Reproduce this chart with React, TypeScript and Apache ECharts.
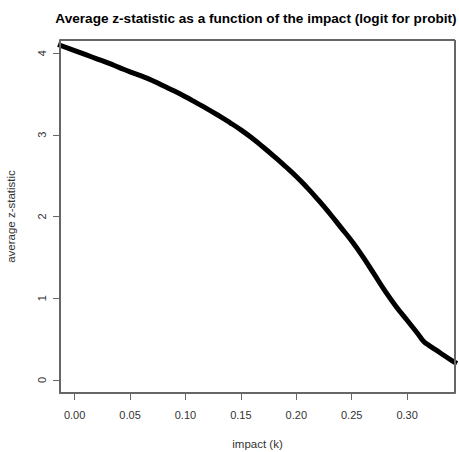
import React, { useEffect, useRef } from "react";
import * as echarts from "echarts";

const impact = [
  -0.015, 0.0, 0.01, 0.02, 0.03, 0.04, 0.05, 0.06, 0.07, 0.08, 0.09, 0.1, 0.11, 0.12, 0.13, 0.14,
  0.15, 0.16, 0.17, 0.18, 0.19, 0.2, 0.21, 0.22, 0.23, 0.24, 0.25, 0.26, 0.27, 0.28, 0.29, 0.3,
  0.31, 0.315, 0.32, 0.33, 0.34, 0.345,
];
const zstat = [
  4.105, 4.03, 3.98, 3.93, 3.88, 3.825, 3.77, 3.72, 3.665, 3.6, 3.535, 3.465, 3.39, 3.315, 3.235,
  3.15, 3.06, 2.96, 2.85, 2.735, 2.615, 2.49, 2.35, 2.2, 2.04, 1.87, 1.7, 1.51, 1.3, 1.09, 0.9,
  0.73, 0.56, 0.47, 0.42, 0.33, 0.24, 0.2,
];
const xTicks = [0, 0.05, 0.1, 0.15, 0.2, 0.25, 0.3];
const yTicks = [0, 1, 2, 3, 4];

const TITLE = "Average z-statistic as a function of the impact (logit for probit)";

export default function App() {
  const ref = useRef<HTMLDivElement>(null);
  useEffect(() => {
    if (!ref.current) return;
    const chart = echarts.init(ref.current, null, { renderer: "svg" });
    const font = "'Liberation Sans', Arial, sans-serif";
    const edgeStyle = { stroke: "#666", lineWidth: 2 };
    chart.setOption({
      animation: false,
      backgroundColor: "#ffffff",
      title: {
        text: TITLE,
        left: 251,
        textAlign: "center",
        top: 6,
        textStyle: { fontFamily: font, fontSize: 13.6, fontWeight: "bold", color: "#000" },
      },
      grid: {
        left: 60,
        top: 40,
        right: 4,
        bottom: 59,
        containLabel: false,
        outerBoundsMode: "none",
      },
      graphic: [
        { type: "line", z: 50, silent: true, shape: { x1: 60, y1: 40, x2: 455, y2: 40 }, style: edgeStyle },
        { type: "line", z: 50, silent: true, shape: { x1: 455, y1: 40, x2: 455, y2: 393 }, style: edgeStyle },
        { type: "line", z: 50, silent: true, shape: { x1: 60, y1: 393, x2: 455, y2: 393 }, style: edgeStyle },
        { type: "line", z: 50, silent: true, shape: { x1: 60, y1: 40, x2: 60, y2: 393 }, style: edgeStyle },
      ],
      xAxis: {
        type: "value",
        min: -0.0132,
        max: 0.3432,
        name: "impact (k)",
        nameLocation: "middle",
        nameGap: 45,
        nameTextStyle: { fontFamily: font, fontSize: 11.5, color: "#333" },
        axisLine: { show: true, onZero: false, lineStyle: { color: "#666", width: 2 } },
        splitLine: { show: false },
        axisTick: {
          show: true,
          length: 7,
          inside: false,
          customValues: xTicks,
          lineStyle: { color: "#666" },
        },
        axisLabel: {
          customValues: xTicks,
          margin: 16,
          fontFamily: font,
          fontSize: 11,
          color: "#333",
          formatter: (v: number) => v.toFixed(2),
        },
      },
      yAxis: {
        type: "value",
        min: -0.16,
        max: 4.16,
        name: "average z-statistic",
        nameLocation: "middle",
        nameGap: 43,
        nameTextStyle: { fontFamily: font, fontSize: 11.5, color: "#333" },
        axisLine: { show: true, onZero: false, lineStyle: { color: "#666", width: 2 } },
        splitLine: { show: false },
        axisTick: {
          show: true,
          length: 7,
          inside: false,
          customValues: yTicks,
          lineStyle: { color: "#666" },
        },
        axisLabel: {
          customValues: yTicks,
          rotate: 90,
          margin: 13,
          fontFamily: font,
          fontSize: 11,
          color: "#333",
          formatter: (v: number) => String(v),
        },
      },
      series: [
        {
          type: "line",
          data: impact.map((x, i) => [x, zstat[i]]),
          showSymbol: false,
          smooth: 0.5,
          clip: true,
          lineStyle: { color: "#000", width: 5 },
        },
      ],
    });
    return () => chart.dispose();
  }, []);
  return (
    <div
      ref={ref}
      style={{ position: "absolute", left: 0, top: 0, width: 459, height: 452 }}
    />
  );
}
